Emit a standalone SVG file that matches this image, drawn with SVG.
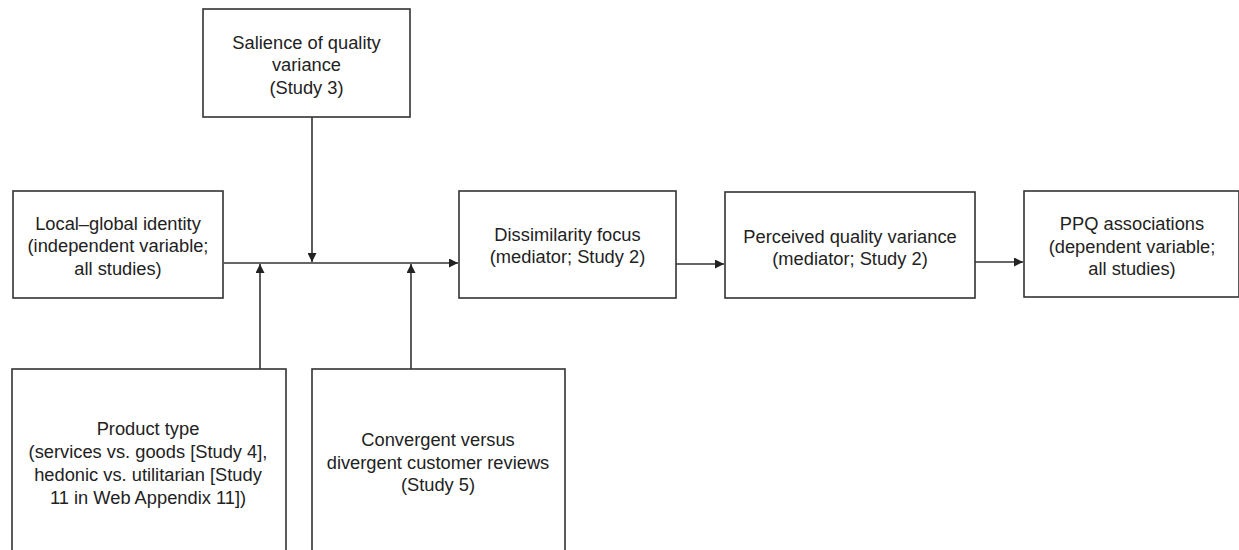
<svg xmlns="http://www.w3.org/2000/svg" width="1239" height="550" viewBox="0 0 1239 550">
<style>
.box{fill:#fff;stroke:#333;stroke-width:1.6}
.t{font-family:"Liberation Sans",Arial,sans-serif;font-size:18.3px;fill:#222;text-anchor:middle}
.c{stroke:#333;stroke-width:1.6;fill:none}
</style>
<defs>
<marker id="ah" viewBox="0 0 10 10" refX="10" refY="5" markerWidth="9" markerHeight="9" markerUnits="userSpaceOnUse" orient="auto">
<path d="M0,0 L10,5 L0,10 z" fill="#222"/>
</marker>
</defs>
<rect width="1239" height="550" fill="#fff"/>
<g id="connectors">
<line class="c" x1="224" y1="263" x2="458" y2="263" marker-end="url(#ah)"/>
<line class="c" x1="312" y1="117" x2="312" y2="262" marker-end="url(#ah)"/>
<line class="c" x1="260" y1="369" x2="260" y2="264" marker-end="url(#ah)"/>
<line class="c" x1="411" y1="369" x2="411" y2="264" marker-end="url(#ah)"/>
<line class="c" x1="676" y1="264" x2="724" y2="264" marker-end="url(#ah)"/>
<line class="c" x1="975" y1="262" x2="1023" y2="262" marker-end="url(#ah)"/>
</g>
<g id="salience">
<rect class="box" x="203" y="9" width="207" height="108"/>
<text class="t" x="306.5" y="48.5">Salience of quality</text>
<text class="t" x="306.5" y="71">variance</text>
<text class="t" x="306.5" y="94">(Study 3)</text>
</g>
<g id="local-global">
<rect class="box" x="13" y="191" width="210" height="107"/>
<text class="t" x="118" y="229.5">Local–global identity</text>
<text class="t" x="118" y="252">(independent variable;</text>
<text class="t" x="118" y="274.5">all studies)</text>
</g>
<g id="dissimilarity">
<rect class="box" x="459" y="191" width="217" height="107"/>
<text class="t" x="567.5" y="240.5">Dissimilarity focus</text>
<text class="t" x="567.5" y="263">(mediator; Study 2)</text>
</g>
<g id="perceived">
<rect class="box" x="725" y="192" width="250" height="106"/>
<text class="t" x="850" y="242.5">Perceived quality variance</text>
<text class="t" x="850" y="265">(mediator; Study 2)</text>
</g>
<g id="ppq">
<rect class="box" x="1024" y="191" width="215" height="106"/>
<text class="t" x="1132" y="230">PPQ associations</text>
<text class="t" x="1132" y="252.5">(dependent variable;</text>
<text class="t" x="1132" y="275">all studies)</text>
</g>
<g id="product-type">
<rect class="box" x="12" y="369" width="274" height="190"/>
<text class="t" x="148" y="434.5">Product type</text>
<text class="t" x="148" y="458">(services vs. goods [Study 4],</text>
<text class="t" x="148" y="481">hedonic vs. utilitarian [Study</text>
<text class="t" x="148" y="504">11 in Web Appendix 11])</text>
</g>
<g id="reviews">
<rect class="box" x="312" y="369" width="253" height="190"/>
<text class="t" x="438" y="445.5">Convergent versus</text>
<text class="t" x="438" y="468.5">divergent customer reviews</text>
<text class="t" x="438" y="491">(Study 5)</text>
</g>
</svg>
